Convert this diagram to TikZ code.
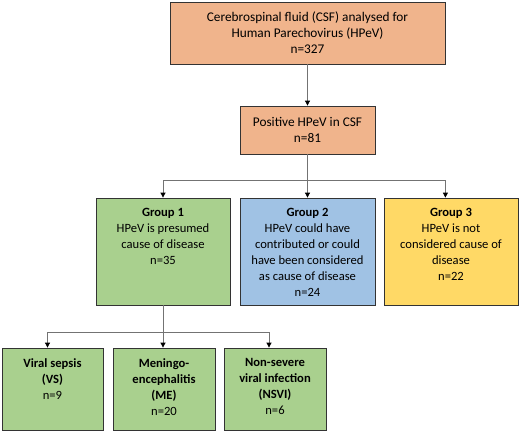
\documentclass[tikz,border=0pt]{standalone}
\usepackage{fontspec}
\setmainfont{Carlito}
\usetikzlibrary{arrows.meta}
\definecolor{boxorange}{RGB}{240,180,140}
\definecolor{boxgreen}{RGB}{169,208,142}
\definecolor{boxblue}{RGB}{160,194,228}
\definecolor{boxyellow}{RGB}{255,217,102}
\newcommand{\toptext}[3]{\parbox[c][#1][t]{#2}{\centering\vspace*{10.5pt}#3}}

\begin{document}
\begin{tikzpicture}[x=1pt,y=-1pt,
		font=\fontsize{12.6}{16}\selectfont,
		flow/.style={draw=black!80,line width=.8pt,inner sep=0pt,align=center},
		head/.style={flow,fill=boxorange,font=\fontsize{13.3}{16}\selectfont},
		conn/.style={draw=black!55,line width=.8pt},
		arr/.style={conn,-{Triangle[length=5pt,width=5pt,color=black]}}]
	\useasboundingbox (0,0) rectangle (520,432);
		\node[head,minimum width=275,minimum height=62] (csf) at (307.5,33) {Cerebrospinal fluid (CSF) analysed for\\Human Parechovirus (HPeV)\\n=327};
		\node[head,minimum width=135,minimum height=48] (pos) at (307.5,130) {Positive HPeV in CSF\\n=81};
		\node[flow,fill=boxgreen] (g1) at (163,251.5) {\toptext{107pt}{134pt}{\textbf{Group 1}\\HPeV is presumed\\cause of disease\\n=35}};
		\node[flow,fill=boxblue] (g2) at (307.5,251.5) {\toptext{107pt}{135pt}{\textbf{Group 2}\\HPeV could have\\contributed or could\\have been considered\\as cause of disease\\n=24}};
		\node[flow,fill=boxyellow] (g3) at (451,251.5) {\toptext{107pt}{134pt}{\textbf{Group 3}\\HPeV is not\\considered cause of\\disease\\n=22}};
		\node[flow,fill=boxgreen] (vs) at (52.5,389) {\toptext{82pt}{101pt}{\textbf{Viral sepsis}\\\textbf{(VS)}\\n=9}};
		\node[flow,fill=boxgreen] (me) at (164,389) {\toptext{82pt}{102pt}{\textbf{Meningo-}\\\textbf{encephalitis}\\\textbf{(ME)}\\n=20}};
		\node[flow,fill=boxgreen] (nsvi) at (275,389) {\toptext{82pt}{102pt}{\textbf{Non-severe}\\\textbf{viral infection}\\\textbf{(NSVI)}\\n=6}};
	% connectors
	\draw[arr] (csf) -- (pos);
	\draw[conn] (pos.south) -- ++(0,26) coordinate (split);
	\draw[arr] (split) -| (g1.north);
	\draw[arr] (split) -- (g2.north);
	\draw[arr] (split) -| (csf.east |- g3.north);
	\draw[conn] (g1.south) -- ++(0,27) coordinate (fork);
	\draw[arr] (fork) -| ([xshift=-5pt]vs.north);
	\draw[arr] (fork) -- (me.north -| fork);
	\draw[arr] (fork) -| ([xshift=-6pt]nsvi.north);
\end{tikzpicture}
\end{document}
